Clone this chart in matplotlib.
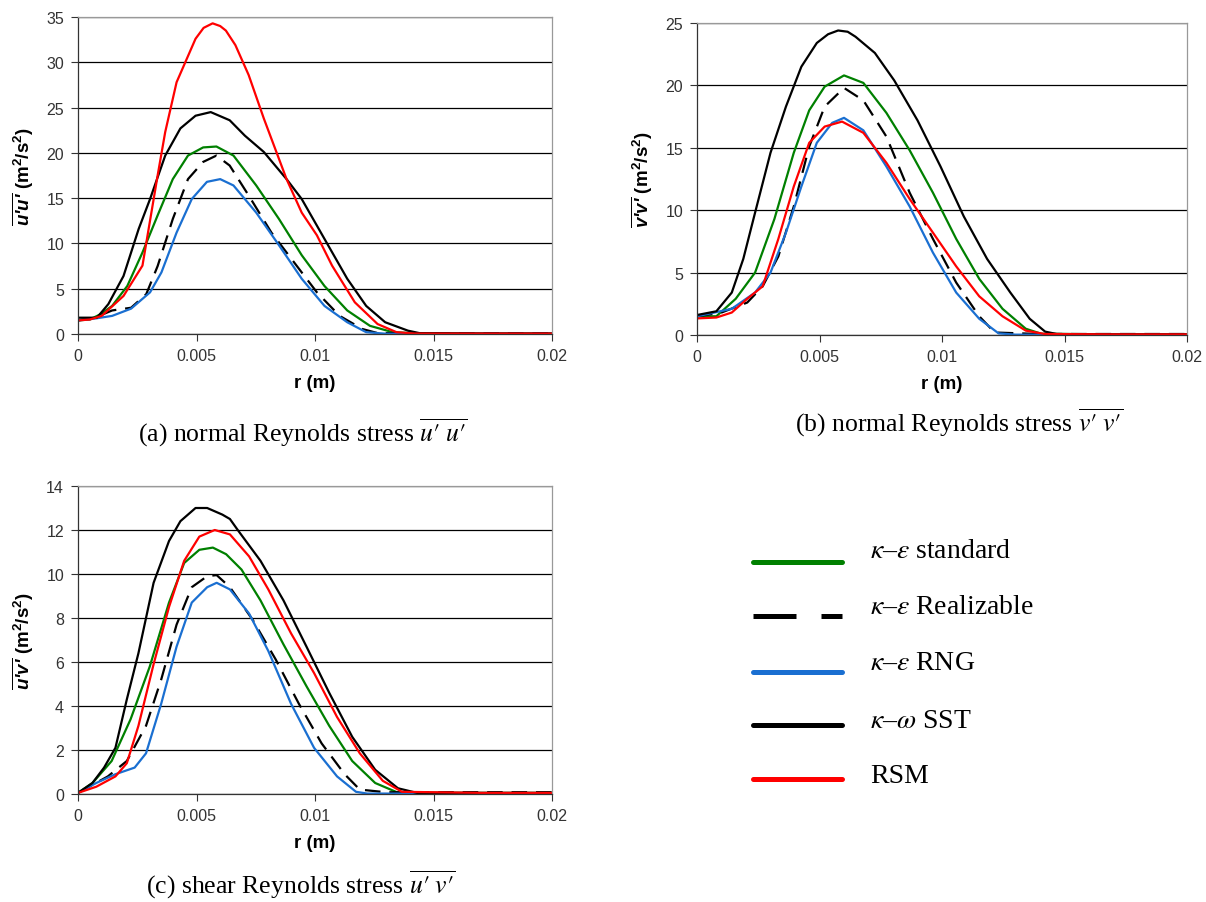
# Reynolds stress profiles, three panels + shared legend
import matplotlib.pyplot as plt
from matplotlib.lines import Line2D

plt.rcParams['font.family'] = ['Liberation Sans', 'DejaVu Sans']
# custom math font only used by the bold-italic y labels
plt.rcParams['mathtext.rm'] = 'Liberation Sans:bold:italic'
plt.rcParams['mathtext.it'] = 'Liberation Sans:bold:italic'
plt.rcParams['mathtext.bf'] = 'Liberation Sans:bold'

x_ticks = [0, 0.005, 0.01, 0.015, 0.02]
x_tick_labels = ['0', '0.005', '0.01', '0.015', '0.02']

# ---- (a) u'u' ----
a_std_r = [0, 0.0005, 0.00096, 0.00144, 0.00208, 0.00272, 0.00336, 0.004, 0.00464, 0.00528, 0.00584, 0.00656, 0.00752, 0.00848, 0.00944, 0.0104, 0.01136, 0.01232, 0.01328, 0.0145, 0.017, 0.02]
a_std_v = [1.5, 1.6, 2.2, 3.1, 5.3, 9.0, 13.1, 17.1, 19.7, 20.6, 20.7, 19.7, 16.4, 12.7, 8.7, 5.3, 2.6, 0.9, 0.2, 0.05, 0.05, 0.05]
a_rea_r = [0, 0.0007, 0.00144, 0.00224, 0.00288, 0.00336, 0.004, 0.00464, 0.00528, 0.00584, 0.0064, 0.0072, 0.00816, 0.00912, 0.01008, 0.01104, 0.012, 0.01264, 0.014, 0.017, 0.02]
a_rea_v = [1.5, 1.8, 2.6, 2.9, 4.4, 7.5, 12.7, 17.1, 19.0, 19.7, 18.6, 15.3, 11.2, 7.9, 4.6, 2.0, 0.55, 0.1, 0.08, 0.08, 0.08]
a_rng_r = [0, 0.0007, 0.00144, 0.00224, 0.00304, 0.00352, 0.00416, 0.0048, 0.00544, 0.006, 0.00656, 0.00752, 0.00848, 0.00944, 0.0104, 0.01136, 0.01216, 0.013, 0.017, 0.02]
a_rng_v = [1.5, 1.7, 2.0, 2.8, 4.6, 6.8, 11.2, 14.9, 16.8, 17.1, 16.4, 13.4, 9.8, 6.1, 3.1, 1.3, 0.2, 0.03, 0.03, 0.03]
a_sst_r = [0, 0.0008, 0.00128, 0.00192, 0.00256, 0.00304, 0.00368, 0.00432, 0.00496, 0.0056, 0.0064, 0.00704, 0.00784, 0.0088, 0.00944, 0.0104, 0.01136, 0.01216, 0.01296, 0.01392, 0.0144, 0.017, 0.02]
a_sst_v = [1.8, 1.8, 3.3, 6.4, 11.6, 14.9, 19.7, 22.7, 24.1, 24.5, 23.6, 21.9, 20.1, 17.1, 14.9, 10.5, 6.1, 3.1, 1.3, 0.37, 0.1, 0.05, 0.05]
a_rsm_r = [0, 0.0005, 0.001, 0.00192, 0.00272, 0.00336, 0.00368, 0.00416, 0.00456, 0.00496, 0.0053, 0.00568, 0.006, 0.00624, 0.00664, 0.0072, 0.00784, 0.0088, 0.00944, 0.01008, 0.01072, 0.01168, 0.01264, 0.01344, 0.0142, 0.017, 0.02]
a_rsm_v = [1.5, 1.6, 2.0, 4.2, 7.55, 17.5, 22.3, 27.8, 30.2, 32.6, 33.8, 34.3, 34.0, 33.5, 31.9, 28.6, 23.8, 17.1, 13.4, 10.9, 7.55, 3.5, 1.1, 0.2, 0.05, 0.05, 0.05]

# ---- (b) v'v' ----
b_std_r = [0, 0.00079, 0.00158, 0.00237, 0.00316, 0.00395, 0.00458, 0.00521, 0.006, 0.00679, 0.00773, 0.00868, 0.00963, 0.01058, 0.01152, 0.01247, 0.01342, 0.01405, 0.017, 0.02]
b_std_v = [1.5, 1.5, 2.9, 5.0, 9.3, 14.6, 18.0, 19.9, 20.8, 20.2, 17.8, 14.8, 11.4, 7.7, 4.5, 2.1, 0.5, 0.1, 0.05, 0.05]
b_rea_r = [0, 0.001, 0.00205, 0.00268, 0.00332, 0.00395, 0.00458, 0.00521, 0.006, 0.00679, 0.00773, 0.00868, 0.00963, 0.01058, 0.01152, 0.01215, 0.014, 0.017, 0.02]
b_rea_v = [1.5, 1.8, 2.6, 3.9, 6.3, 10.3, 15.1, 18.3, 19.8, 18.8, 15.9, 11.4, 7.7, 4.2, 1.5, 0.2, 0.08, 0.08, 0.08]
b_rng_r = [0, 0.00142, 0.00237, 0.003, 0.00363, 0.00426, 0.00489, 0.00552, 0.006, 0.00679, 0.00773, 0.00868, 0.00963, 0.01058, 0.01152, 0.01231, 0.013, 0.017, 0.02]
b_rng_v = [1.5, 2.1, 3.4, 5.0, 8.2, 11.9, 15.4, 17.0, 17.4, 16.4, 13.5, 10.3, 6.6, 3.4, 1.3, 0.13, 0.03, 0.03, 0.03]
b_sst_r = [0, 0.00079, 0.00142, 0.00189, 0.00237, 0.003, 0.00363, 0.00426, 0.00489, 0.00535, 0.00576, 0.00615, 0.00647, 0.00726, 0.00805, 0.009, 0.00994, 0.01089, 0.01184, 0.01279, 0.01358, 0.01421, 0.01468, 0.017, 0.02]
b_sst_v = [1.6, 1.9, 3.4, 6.1, 9.8, 14.6, 18.3, 21.5, 23.4, 24.1, 24.4, 24.3, 23.9, 22.6, 20.4, 17.2, 13.5, 9.5, 6.1, 3.4, 1.3, 0.27, 0.08, 0.05, 0.05]
b_rsm_r = [0, 0.00079, 0.00142, 0.00205, 0.00268, 0.00332, 0.00395, 0.00458, 0.00521, 0.00592, 0.00679, 0.00773, 0.00868, 0.00963, 0.01058, 0.01152, 0.01247, 0.01342, 0.0142, 0.017, 0.02]
b_rsm_v = [1.33, 1.4, 1.8, 2.9, 3.9, 7.7, 11.9, 15.4, 16.7, 17.1, 16.2, 13.8, 10.9, 8.2, 5.5, 3.1, 1.5, 0.35, 0.08, 0.05, 0.05]

# ---- (c) u'v' ----
c_std_r = [0, 0.00061, 0.00142, 0.00222, 0.00303, 0.00384, 0.00448, 0.00512, 0.00569, 0.00625, 0.0069, 0.0077, 0.00867, 0.00964, 0.0106, 0.01157, 0.01254, 0.0135, 0.017, 0.02]
c_std_v = [0.05, 0.5, 1.5, 3.4, 5.8, 8.7, 10.5, 11.1, 11.2, 10.9, 10.2, 8.8, 6.8, 4.9, 3.1, 1.5, 0.5, 0.06, 0.05, 0.05]
c_rea_r = [0, 0.00126, 0.00206, 0.00287, 0.00351, 0.00416, 0.0048, 0.00545, 0.00585, 0.00641, 0.00738, 0.00835, 0.00932, 0.01028, 0.01125, 0.01189, 0.013, 0.017, 0.02]
c_rea_v = [0.05, 0.8, 1.5, 3.1, 5.2, 7.7, 9.4, 9.9, 9.95, 9.4, 7.9, 6.1, 4.1, 2.3, 0.9, 0.2, 0.08, 0.08, 0.08]
c_rng_r = [0, 0.00077, 0.00158, 0.00239, 0.00287, 0.00351, 0.00416, 0.0048, 0.00545, 0.00585, 0.00641, 0.00722, 0.00803, 0.00899, 0.00996, 0.01093, 0.01173, 0.0122, 0.017, 0.02]
c_rng_v = [0.05, 0.5, 0.9, 1.2, 1.85, 4.1, 6.7, 8.7, 9.4, 9.6, 9.3, 8.2, 6.5, 4.1, 2.1, 0.8, 0.1, 0.02, 0.02, 0.02]
c_sst_r = [0, 0.00061, 0.0011, 0.00158, 0.00206, 0.00255, 0.00319, 0.00384, 0.00432, 0.00496, 0.00545, 0.00609, 0.00641, 0.00674, 0.0077, 0.00867, 0.00964, 0.0106, 0.01157, 0.01254, 0.0135, 0.01431, 0.017, 0.02]
c_sst_v = [0.05, 0.5, 1.2, 2.1, 4.3, 6.4, 9.6, 11.5, 12.4, 13.0, 13.0, 12.7, 12.5, 12.0, 10.6, 8.8, 6.7, 4.6, 2.6, 1.1, 0.26, 0.05, 0.05, 0.05]
c_rsm_r = [0, 0.00077, 0.00158, 0.00206, 0.00255, 0.00319, 0.00384, 0.00448, 0.00512, 0.00577, 0.00641, 0.00722, 0.00803, 0.00899, 0.00996, 0.01093, 0.01189, 0.01286, 0.01367, 0.017, 0.02]
c_rsm_v = [0.05, 0.33, 0.8, 1.4, 3.1, 5.9, 8.5, 10.6, 11.7, 12.0, 11.8, 10.8, 9.3, 7.3, 5.5, 3.5, 1.85, 0.6, 0.1, 0.05, 0.05]

labels = [r'$\kappa$–$\varepsilon$ standard', r'$\kappa$–$\varepsilon$ Realizable',
          r'$\kappa$–$\varepsilon$ RNG', r'$\kappa$–$\omega$ SST', 'RSM']
colors = ['#008000', 'black', '#1a6fd1', 'black', '#ff0000']
styles = ['-', '--', '-', '-', '-']

W, H = 1206, 903

panels = [
    dict(pos=[78 / W, 1 - 335 / H, 474 / W, 317 / H], ymax=35, ystep=5,
         data=[(a_std_r, a_std_v), (a_rea_r, a_rea_v), (a_rng_r, a_rng_v), (a_sst_r, a_sst_v), (a_rsm_r, a_rsm_v)],
         ylabel=r"$\overline{\text{u'u'}}$ (m$^\mathbf{2}$/s$^\mathbf{2}$)",
         caption=r"(a) normal Reynolds stress $\overline{u{\prime}\;u{\prime}}$", cap_xy=(303, 433)),
    dict(pos=[697 / W, 1 - 336 / H, 490 / W, 312 / H], ymax=25, ystep=5,
         data=[(b_std_r, b_std_v), (b_rea_r, b_rea_v), (b_rng_r, b_rng_v), (b_sst_r, b_sst_v), (b_rsm_r, b_rsm_v)],
         ylabel=r"$\overline{\text{v'v'}}$ (m$^\mathbf{2}$/s$^\mathbf{2}$)",
         caption=r"(b) normal Reynolds stress $\overline{v{\prime}\;v{\prime}}$", cap_xy=(959, 423)),
    dict(pos=[78 / W, 1 - 795 / H, 474 / W, 308 / H], ymax=14, ystep=2,
         data=[(c_std_r, c_std_v), (c_rea_r, c_rea_v), (c_rng_r, c_rng_v), (c_sst_r, c_sst_v), (c_rsm_r, c_rsm_v)],
         ylabel=r"$\overline{\text{u'v'}}$ (m$^\mathbf{2}$/s$^\mathbf{2}$)",
         caption=r"(c) shear Reynolds stress $\overline{u{\prime}\;v{\prime}}$", cap_xy=(301, 885)),
]

fig = plt.figure(figsize=(W / 100, H / 100), dpi=100)

for p in panels:
    ax = fig.add_axes(p['pos'])
    for (r, v), c, ls in zip(p['data'], colors, styles):
        if ls == '--':
            ax.plot(r, v, color=c, lw=1.6, dashes=(7, 4))
        else:
            ax.plot(r, v, color=c, lw=1.6)
    ax.set_xlim(0, 0.02)
    ax.set_ylim(0, p['ymax'])
    ax.set_xticks(x_ticks)
    ax.set_xticklabels(x_tick_labels)
    ax.set_yticks(range(0, p['ymax'] + 1, p['ystep']))
    ax.yaxis.grid(True, color='black', lw=0.9)
    ax.set_axisbelow(True)
    for side, s in ax.spines.items():
        s.set_color('#333333' if side in ('left', 'bottom') else '#999999')
        s.set_linewidth(0.9)
    ax.tick_params(direction='out', length=5, width=0.8, color='#333333',
                   labelsize=11.5, labelcolor='#333333', pad=5)
    ax.set_xlabel('r (m)', fontsize=13.5, fontweight='bold', labelpad=8)
    ax.set_ylabel(p['ylabel'], fontsize=13.5, fontweight='bold',
                  math_fontfamily='custom')
    ax.yaxis.set_label_coords(-42 / (p['pos'][2] * W), 0.5)
    fig.text(p['cap_xy'][0] / W, 1 - p['cap_xy'][1] / H, p['caption'],
             ha='center', va='center', fontsize=18.5,
             family='Liberation Serif', math_fontfamily='stix')

# legend keys on the free lower-right area
line_y = [563, 617, 673, 726, 780]
text_y = [551, 608, 664, 722, 777]
for c, ls, lab, ly, ty in zip(colors, styles, labels, line_y, text_y):
    yf = 1 - ly / H
    if ls == '--':
        key = Line2D([753 / W, 842 / W], [yf, yf], color=c, lw=3.6,
                     dashes=(8.6, 5), transform=fig.transFigure)
    else:
        key = Line2D([753 / W, 842 / W], [yf, yf], color=c, lw=3.6,
                     solid_capstyle='round', transform=fig.transFigure)
    fig.add_artist(key)
    fig.text(870 / W, 1 - ty / H, lab, ha='left', va='center', fontsize=20,
             family='Liberation Serif', math_fontfamily='stix')

fig.savefig('out.png', dpi=100)
